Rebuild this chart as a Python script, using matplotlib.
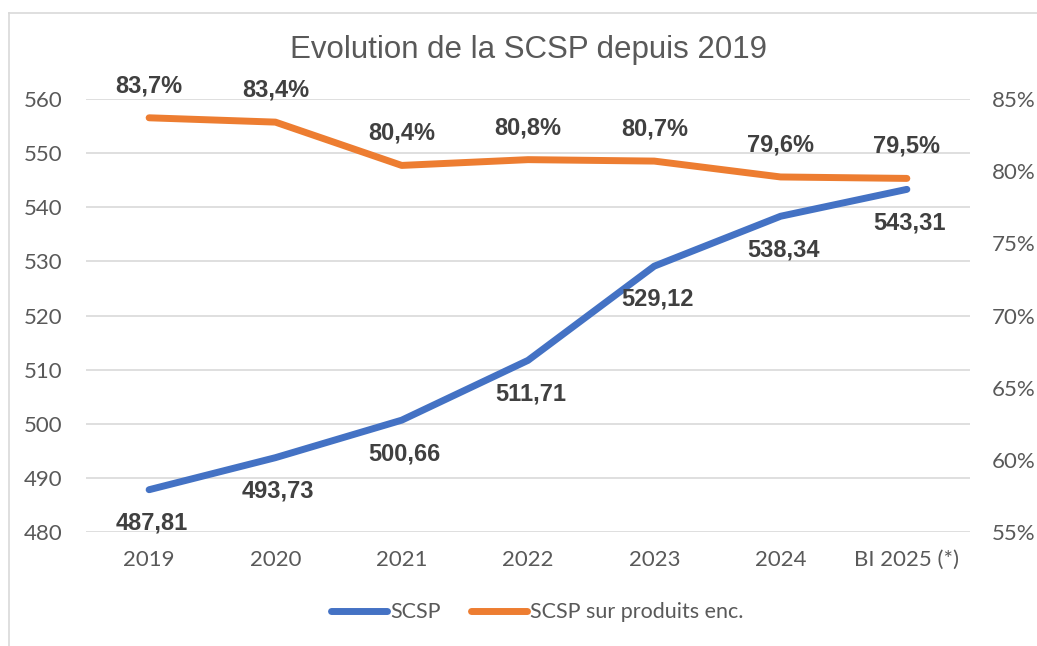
import matplotlib.pyplot as plt
from matplotlib.lines import Line2D

# données
annees = ["2019", "2020", "2021", "2022", "2023", "2024", "BI 2025 (*)"]
scsp = [487.81, 493.73, 500.66, 511.71, 529.12, 538.34, 543.31]
taux = [83.7, 83.4, 80.4, 80.8, 80.7, 79.6, 79.5]
labels_scsp = ["487,81", "493,73", "500,66", "511,71", "529,12", "538,34", "543,31"]
labels_taux = ["83,7%", "83,4%", "80,4%", "80,8%", "80,7%", "79,6%", "79,5%"]

bleu = "#4472C4"
orange = "#ED7D31"
gris = "#595959"

fig = plt.figure(figsize=(10.37, 6.46), dpi=100)
ax = fig.add_axes([0.0829, 0.1765, 0.8525, 0.6702])
ax2 = ax.twinx()

x = list(range(len(annees)))
ax.plot(x, scsp, color=bleu, lw=5, solid_capstyle="round", solid_joinstyle="round", zorder=3)
ax2.plot(x, taux, color=orange, lw=5, solid_capstyle="round", solid_joinstyle="round", zorder=3)

# étiquettes de données
for xi, v, t in zip(x, scsp, labels_scsp):
    ax.annotate(t, (xi, v), xytext=(2, -24), textcoords="offset points", ha="center", va="center",
                fontsize=17, fontweight="bold", color="#404040", family="Liberation Sans")
for xi, v, t in zip(x, taux, labels_taux):
    ax2.annotate(t, (xi, v), xytext=(0, 23), textcoords="offset points", ha="center", va="center",
                 fontsize=17, fontweight="bold", color="#404040", family="Liberation Sans")

ax.set_xlim(-0.5, len(annees) - 0.5)
ax.set_ylim(480, 560)
ax.set_yticks(range(480, 561, 10))
ax2.set_ylim(55, 85)
ax2.set_yticks(range(55, 86, 5))
ax2.set_yticklabels([f"{v}%" for v in range(55, 86, 5)])
ax.set_xticks(x)
ax.set_xticklabels(annees)

ax.grid(axis="y", color="#D9D9D9", lw=1.2)
ax.set_axisbelow(True)
for a in (ax, ax2):
    for s in a.spines.values():
        s.set_visible(False)
ax.tick_params(axis="y", length=0, pad=17, labelsize=16, labelcolor=gris)
ax.tick_params(axis="x", length=0, pad=13, labelsize=16, labelcolor=gris)
ax2.tick_params(axis="y", length=0, pad=16, labelsize=16, labelcolor=gris)
for lab in ax.get_xticklabels() + ax.get_yticklabels() + ax2.get_yticklabels():
    lab.set_family("Lato")

fig.text(0.51, 0.922, "Evolution de la SCSP depuis 2019", ha="center", va="center",
         fontsize=22.5, color=gris, family="Liberation Sans")

# cadre
fig.add_artist(Line2D([0.0087, 0.0087], [0.0, 0.98], transform=fig.transFigure, color="#D9D9D9", lw=1.2))
fig.add_artist(Line2D([0.0087, 1.0], [0.98, 0.98], transform=fig.transFigure, color="#D9D9D9", lw=1.2))

handles = [Line2D([], [], color=bleu, lw=5, solid_capstyle="round"),
           Line2D([], [], color=orange, lw=5, solid_capstyle="round")]
fig.legend(handles, ["SCSP", "SCSP sur produits enc."], loc="center", bbox_to_anchor=(0.518, 0.052),
           ncol=2, frameon=False, handlelength=2.6, handletextpad=0.15, columnspacing=1.4,
           prop={"family": "Lato", "size": 15.5}, labelcolor=gris)

fig.savefig("out.png", dpi=100)
